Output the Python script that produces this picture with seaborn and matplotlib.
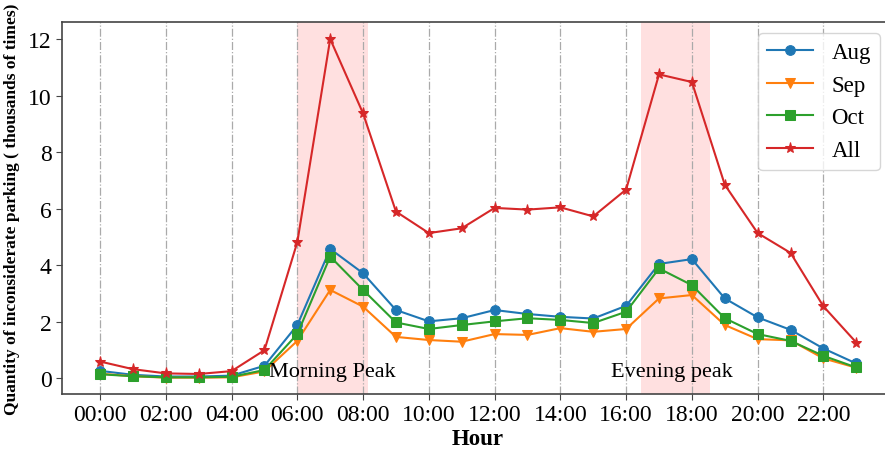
import matplotlib
matplotlib.use("Agg")
import matplotlib.pyplot as plt
import seaborn as sns
import pandas as pd

hours = list(range(24))
tick_hours = list(range(0, 24, 2))
tick_labels = [f"{h:02d}:00" for h in tick_hours]

aug = [0.27, 0.13, 0.07, 0.07, 0.10, 0.45, 1.89, 4.58, 3.72, 2.42, 2.02, 2.13,
       2.42, 2.28, 2.18, 2.12, 2.57, 4.05, 4.22, 2.83, 2.16, 1.72, 1.06, 0.53]
sep = [0.17, 0.08, 0.03, 0.03, 0.04, 0.25, 1.33, 3.13, 2.54, 1.47, 1.36, 1.30,
       1.57, 1.54, 1.78, 1.65, 1.75, 2.83, 2.95, 1.89, 1.39, 1.35, 0.71, 0.38]
oct_ = [0.15, 0.08, 0.04, 0.04, 0.06, 0.30, 1.57, 4.31, 3.13, 1.98, 1.75, 1.89,
        2.02, 2.13, 2.07, 1.96, 2.36, 3.89, 3.30, 2.13, 1.57, 1.33, 0.80, 0.39]
all_ = [0.60, 0.33, 0.18, 0.16, 0.26, 1.00, 4.82, 12.0, 9.37, 5.90, 5.14, 5.31,
        6.03, 5.97, 6.05, 5.73, 6.68, 10.75, 10.48, 6.85, 5.14, 4.44, 2.55, 1.27]

series_names = ["Aug", "Sep", "Oct", "All"]
series_vals = [aug, sep, oct_, all_]
colors = ["#1f77b4", "#ff7f0e", "#2ca02c", "#d62728"]
markers = ["o", "v", "s", "*"]

morning = (6.0, 8.15)
evening = (16.45, 18.55)

plt.rcParams['font.family'] = ['Liberation Serif', 'DejaVu Serif']

fig = plt.figure(figsize=(8.85, 4.52), dpi=100)
ax = fig.add_axes([0.0703, 0.126, 0.940, 0.823])

df = pd.DataFrame({
    "hour": hours * 4,
    "value": sum(series_vals, []),
    "series": sum([[n] * 24 for n in series_names], []),
})

ax.axvspan(*morning, color="#ffcccc", alpha=0.6, lw=0, zorder=0)
ax.axvspan(*evening, color="#ffcccc", alpha=0.6, lw=0, zorder=0)

for name, c, m in zip(series_names, colors, markers):
    sub = df[df["series"] == name]
    ms = 8 if m == "*" else 7
    sns.lineplot(data=sub, x="hour", y="value", ax=ax, color=c, marker=m,
                 markersize=ms, markeredgecolor=c, linewidth=1.5, label=name)

ax.set_xticks(tick_hours)
ax.set_xticklabels(tick_labels)
ax.set_xlim(-1.15, 24.15)
ax.set_ylim(-0.55, 12.6)
ax.set_yticks([0, 2, 4, 6, 8, 10, 12])
ax.tick_params(labelsize=17, direction="out", length=4, color="#444444")
ax.grid(axis="x", linestyle="-.", color="#aaaaaa", linewidth=0.9)
ax.set_axisbelow(True)
for s in ax.spines.values():
    s.set_color("#444444")
    s.set_linewidth(1.2)

ax.set_xlabel("Hour", fontsize=16.5, fontweight="bold", labelpad=2)
ax.set_ylabel("Quantity of inconsiderate parking ( thousands of times)",
              fontsize=12.5, fontweight="bold", labelpad=6)

ax.text(5.15, 0.25, "Morning Peak", fontsize=16, va="center", ha="left")
ax.text(15.55, 0.25, "Evening peak", fontsize=16, va="center", ha="left")

ax.legend(loc="upper right", bbox_to_anchor=(0.983, 0.970), borderaxespad=0,
          fontsize=16.5, frameon=True, fancybox=True,
          handlelength=2.0, labelspacing=0.5)

fig.savefig("out.png", dpi=100)
